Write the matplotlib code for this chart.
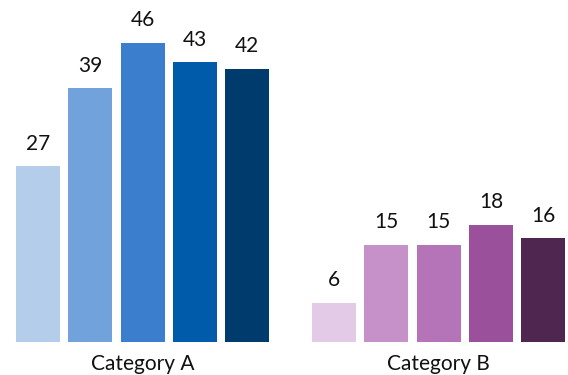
import matplotlib
matplotlib.use("Agg")
import matplotlib.pyplot as plt

# Data
groups = ["Category A", "Category B"]
values_a = [27, 39, 46, 43, 42]
values_b = [6, 15, 15, 18, 16]
colors_a = ["#b3cdea", "#72a2dc", "#3c7ece", "#005bab", "#003b6d"]
colors_b = ["#e3cae6", "#c690c9", "#b674b8", "#9b509b", "#4e264f"]

plt.rcParams['font.family'] = ['Lato', 'DejaVu Sans']

fig = plt.figure(figsize=(5.68, 3.75), dpi=100)
ax = fig.add_axes([0, 33 / 375, 1, 342 / 375])

pos_a = [i for i in range(len(values_a))]
offset = len(values_a) + 0.66
pos_b = [offset + i for i in range(len(values_b))]

width = 0.84
bars_a = ax.bar(pos_a, values_a, width=width, color=colors_a)
bars_b = ax.bar(pos_b, values_b, width=width, color=colors_b)
for bars in (bars_a, bars_b):
    ax.bar_label(bars, padding=9, fontsize=15, color="#111111")

ax.set_xlim(-0.727, 10.13)
ax.set_ylim(0, 342 / 6.5)

ax.set_xticks([sum(pos_a) / len(pos_a), sum(pos_b) / len(pos_b)])
ax.set_xticklabels(groups, fontsize=15, color="#111111")
ax.tick_params(axis="x", length=0, pad=9)
ax.set_yticks([])
for s in ax.spines.values():
    s.set_visible(False)

fig.savefig("out.png", dpi=100)
